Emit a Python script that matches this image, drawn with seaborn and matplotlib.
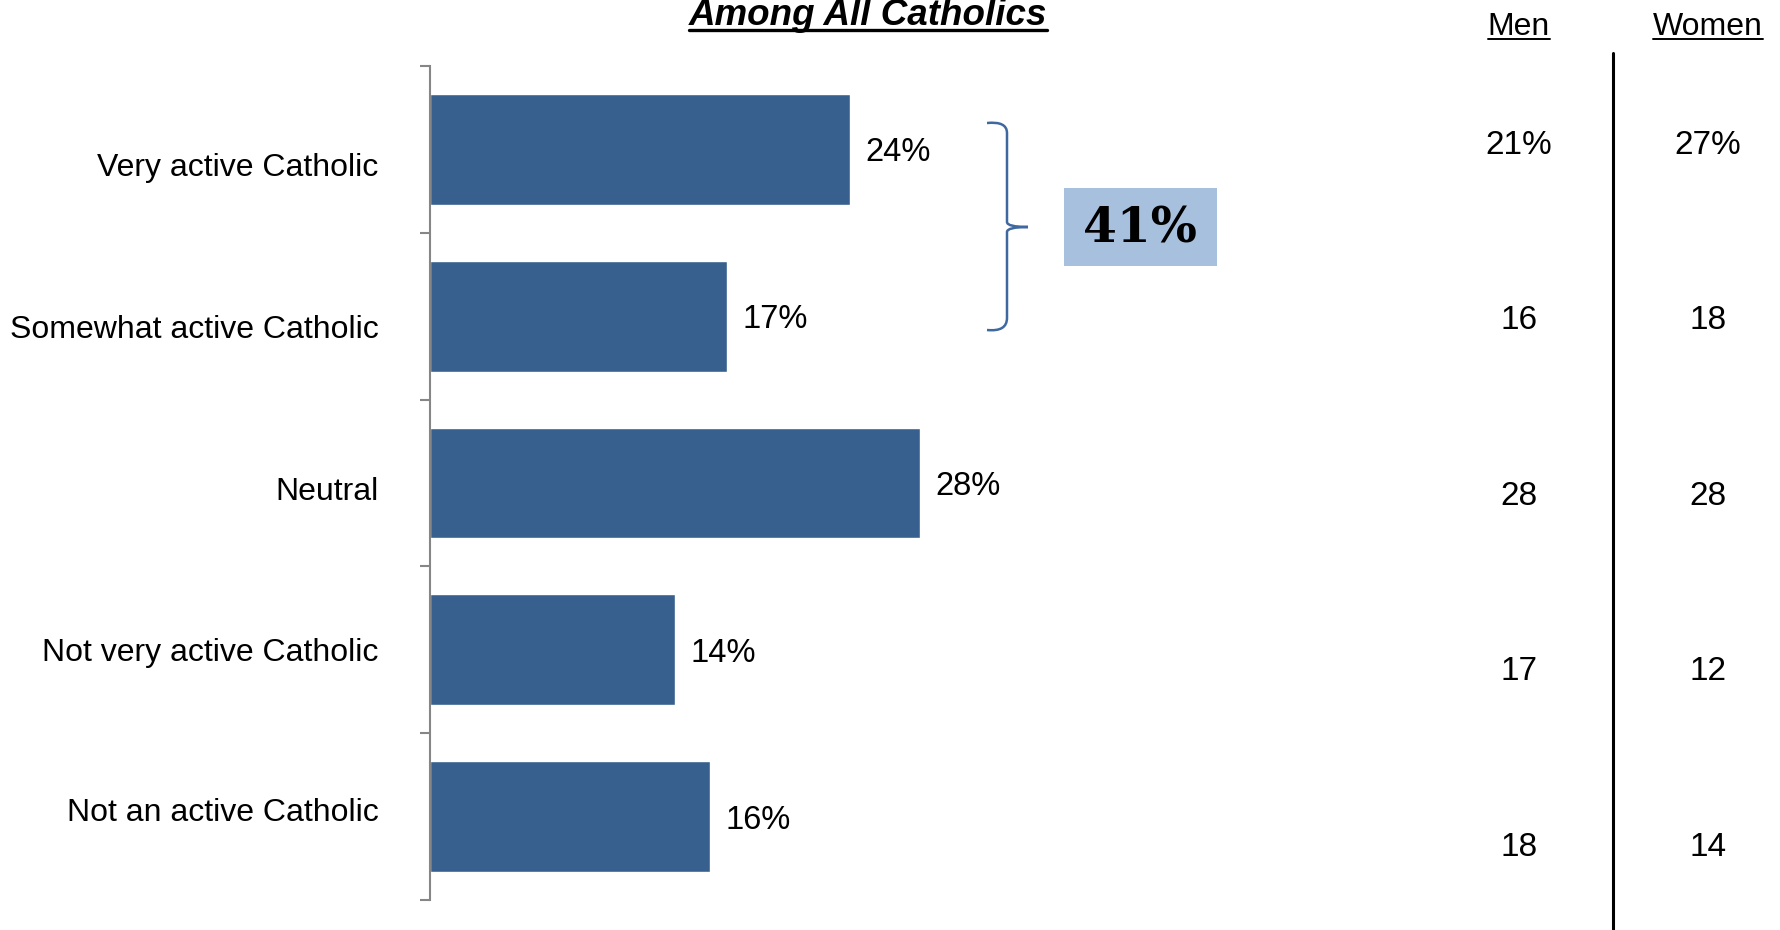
import pandas as pd
import numpy as np
import seaborn as sns
import matplotlib.pyplot as plt
from matplotlib.path import Path
from matplotlib.patches import PathPatch, Rectangle

categories = ['Very active Catholic', 'Somewhat active Catholic', 'Neutral',
              'Not very active Catholic', 'Not an active Catholic']
all_catholics = [24, 17, 28, 14, 16]
men = [21, 16, 28, 17, 18]
women = [27, 18, 28, 12, 14]
active_total = 41

W, H = 1781, 930
BAR = '#37608F'

sns.set_style('white')
plt.rcParams['font.family'] = ['Liberation Sans', 'DejaVu Sans']
plt.rcParams['text.color'] = 'black'
plt.rcParams['ytick.labelcolor'] = 'black'

fig = plt.figure(figsize=(W / 100, H / 100), dpi=100)


def fx(px):
    return px / W


def fy(py):
    return 1 - py / H


ax = fig.add_axes([fx(430), fy(900), fx(1781) - fx(430), fy(66) - fy(900)])
df = pd.DataFrame({'cat': categories, 'pct': all_catholics})
sns.barplot(data=df, x='pct', y='cat', color=BAR, saturation=1, width=0.665,
            orient='h', ax=ax)
ax.set_xlim(0, 1351 / 17.5)
ax.set_ylim(4.5, -0.5)
lbls = ax.bar_label(ax.containers[0], labels=[f'{v}%' for v in all_catholics],
                    padding=11, fontsize=23.5, color='black')
for t in lbls:
    ox, oy = t.xyann
    t.xyann = (ox, oy - 2.5)

# category labels (slightly offset like the original) and boundary ticks
offs = [0.09, 0.06, 0.03, 0.0, -0.04]
ax.set_yticks(np.arange(len(categories)) + np.array(offs))
ax.set_yticklabels(categories, fontsize=23, color='black')
ax.tick_params(axis='y', which='major', length=0, pad=37)
ax.set_yticks(np.arange(-0.5, len(categories)), minor=True)
ax.tick_params(axis='y', which='minor', length=7, width=1.5, color='#868686',
               direction='out', left=True)
ax.set_xticks([])
ax.set_xlabel('')
ax.set_ylabel('')
for s in ['top', 'right', 'bottom']:
    ax.spines[s].set_visible(False)
ax.spines['left'].set_color('#868686')
ax.spines['left'].set_linewidth(1.5)

fig.canvas.draw()
r = fig.canvas.get_renderer()


def underlined(x, y, s, size, weight='normal', style='normal', gap=4):
    t = fig.text(fx(x), fy(y), s, fontsize=size, fontweight=weight,
                 fontstyle=style, ha='center', va='baseline', color='black')
    bb = t.get_window_extent(r)
    fig.add_artist(plt.Line2D([bb.x0 / W, bb.x1 / W], [fy(y + gap)] * 2,
                              color='black', lw=2.4 if weight == 'bold' else 1.4,
                              transform=fig.transFigure))


underlined(868, 25, 'Among All Catholics', 26.5, weight='bold', style='italic', gap=5)
underlined(1519, 35, 'Men', 23)
underlined(1708, 35, 'Women', 23)

# vertical divider of the side table
fig.add_artist(plt.Line2D([fx(1613)] * 2, [fy(53), 0], color='black', lw=2.2,
                          transform=fig.transFigure))

rows_y = [145, 320, 496, 671, 847]
for i, yy in enumerate(rows_y):
    m = f'{men[i]}%' if i == 0 else f'{men[i]}'
    w = f'{women[i]}%' if i == 0 else f'{women[i]}'
    fig.text(fx(1519), fy(yy), m, fontsize=24, ha='center', va='center', color='black')
    fig.text(fx(1708), fy(yy), w, fontsize=24, ha='center', va='center', color='black')

# brace over the two active rows
pts = [(987, 123), (1007, 121), (1007, 133), (1007, 222), (1007, 227), (1028, 227),
       (1007, 227), (1007, 232), (1007, 318), (1007, 332), (987, 330)]
codes = [Path.MOVETO, Path.CURVE3, Path.CURVE3, Path.LINETO, Path.CURVE3, Path.CURVE3,
         Path.CURVE3, Path.CURVE3, Path.LINETO, Path.CURVE3, Path.CURVE3]
brace = Path([(fx(a), fy(b)) for a, b in pts], codes)
fig.add_artist(PathPatch(brace, fill=False, edgecolor='#3F68A0', lw=1.8,
                         transform=fig.transFigure))

fig.add_artist(Rectangle((fx(1064), fy(266)), fx(1217) - fx(1064), fy(188) - fy(266),
                         facecolor='#A7C0DE', edgecolor='none',
                         transform=fig.transFigure))
fig.text(fx(1140), fy(229), f'{active_total}%', fontsize=35, fontweight='heavy',
         family='DejaVu Serif', ha='center', va='center', color='black')

fig.savefig('out.png', dpi=100)
